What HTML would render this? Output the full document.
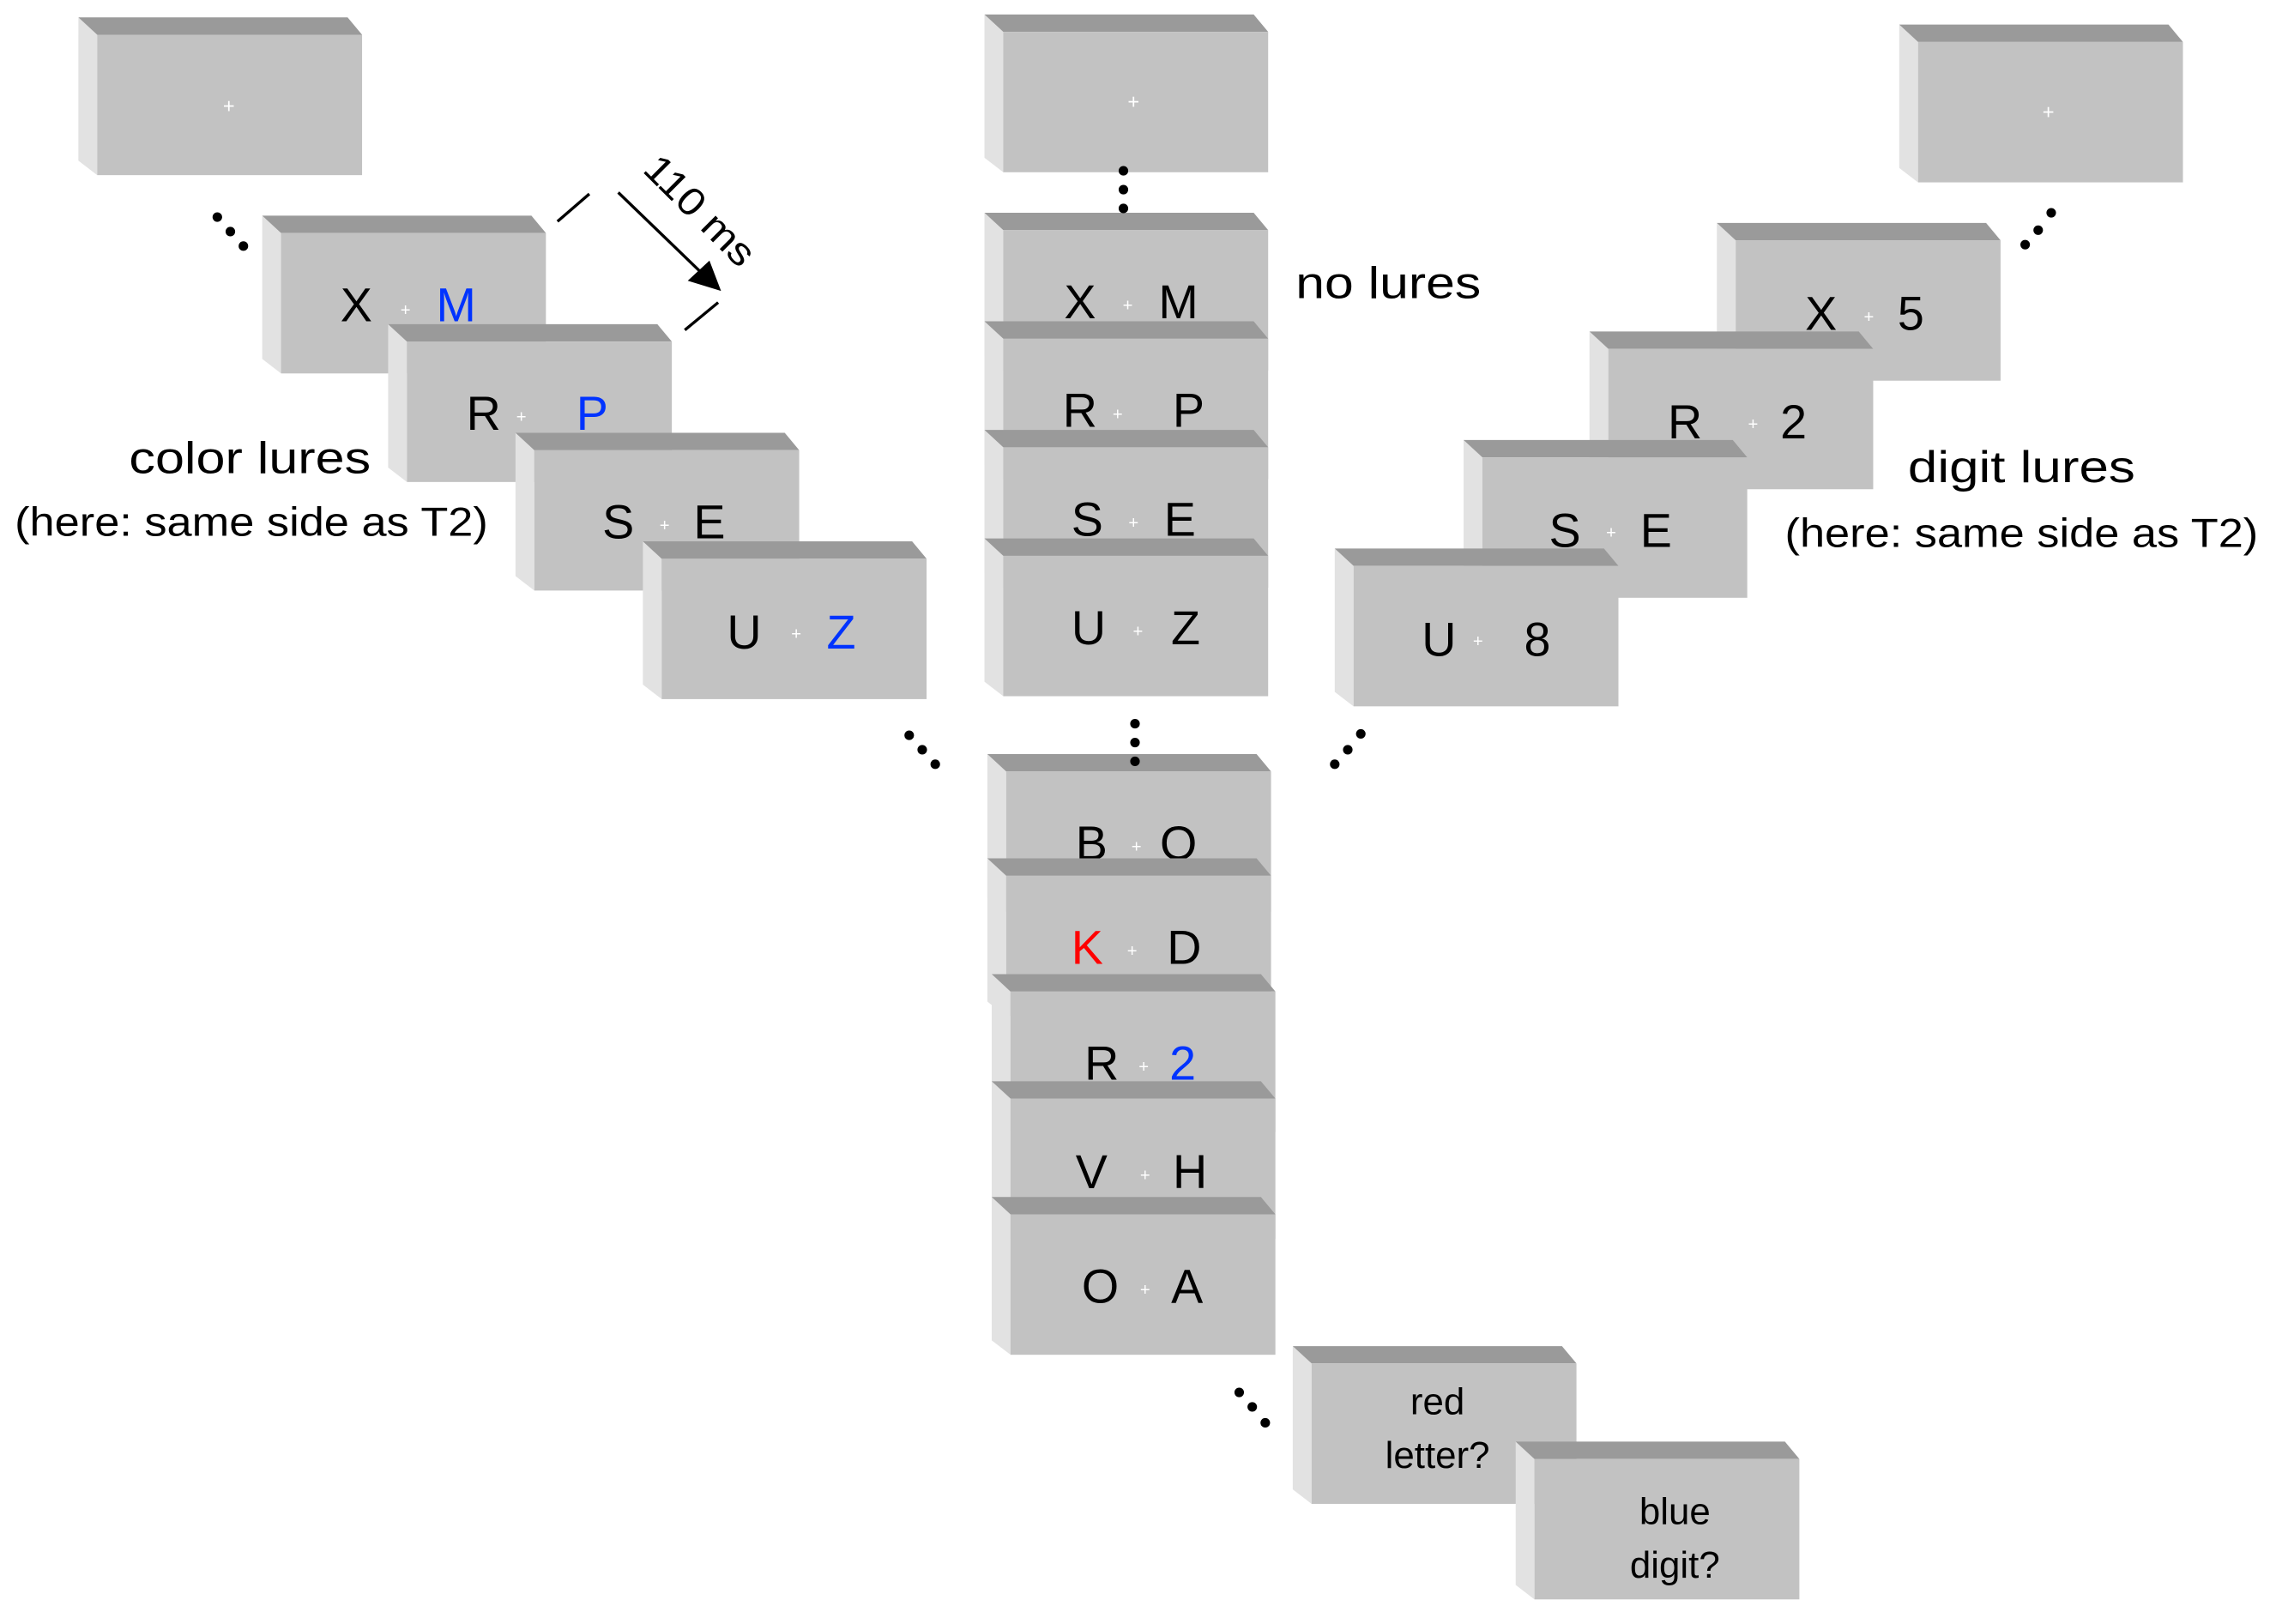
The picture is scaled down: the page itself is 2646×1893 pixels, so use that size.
<!DOCTYPE html>
<html><head><meta charset="utf-8">
<style>
html,body{margin:0;padding:0;background:#fff;}
svg{display:block;}
text{font-family:"Liberation Sans",sans-serif;}
</style></head>
<body>
<svg width="2646" height="1893" viewBox="0 0 1568 1122" xmlns="http://www.w3.org/2000/svg">
<defs>
<g id="b">
<polygon points="0,0 13,12 13,109 0,99" fill="#e2e2e2"/>
<polygon points="0,0 186,0 196,12 13,12" fill="#9a9a9a"/>
<rect x="13" y="12" width="183" height="97" fill="#c2c2c2"/>
</g>
</defs>
<g font-size="33" fill="#000">
<!-- left column -->
<use href="#b" x="54" y="12"/>
<text x="158" y="78" font-size="14" fill="#fff" text-anchor="middle">+</text>
<use href="#b" x="181" y="149"/>
<text x="246" y="222" text-anchor="middle">X</text><text x="280" y="218" font-size="12" fill="#fff" text-anchor="middle">+</text><text x="315" y="222" text-anchor="middle" fill="#0033ff">M</text>
<use href="#b" x="268" y="224"/>
<text x="334" y="297" text-anchor="middle">R</text><text x="360" y="292" font-size="12" fill="#fff" text-anchor="middle">+</text><text x="409" y="297" text-anchor="middle" fill="#0033ff">P</text>
<use href="#b" x="356" y="299"/>
<text x="427" y="372" text-anchor="middle">S</text><text x="459" y="367" font-size="12" fill="#fff" text-anchor="middle">+</text><text x="490" y="372" text-anchor="middle">E</text>
<use href="#b" x="444" y="374"/>
<text x="514" y="448" text-anchor="middle">U</text><text x="550" y="442" font-size="12" fill="#fff" text-anchor="middle">+</text><text x="581" y="448" text-anchor="middle" fill="#0033ff">Z</text>

<!-- center column -->
<use href="#b" x="680" y="10"/>
<text x="783" y="75" font-size="14" fill="#fff" text-anchor="middle">+</text>
<use href="#b" x="680" y="147"/>
<text x="746" y="220" text-anchor="middle">X</text><text x="779" y="215" font-size="12" fill="#fff" text-anchor="middle">+</text><text x="814" y="220" text-anchor="middle">M</text>
<use href="#b" x="680" y="222"/>
<text x="746" y="295" text-anchor="middle">R</text><text x="772" y="290" font-size="12" fill="#fff" text-anchor="middle">+</text><text x="821" y="295" text-anchor="middle">P</text>
<use href="#b" x="680" y="297"/>
<text x="751" y="370" text-anchor="middle">S</text><text x="783" y="365" font-size="12" fill="#fff" text-anchor="middle">+</text><text x="815" y="370" text-anchor="middle">E</text>
<use href="#b" x="680" y="372"/>
<text x="752" y="445" text-anchor="middle">U</text><text x="786" y="440" font-size="12" fill="#fff" text-anchor="middle">+</text><text x="819" y="445" text-anchor="middle">Z</text>

<use href="#b" x="682" y="521"/>
<text x="754" y="594" text-anchor="middle">B</text><text x="785" y="589" font-size="12" fill="#fff" text-anchor="middle">+</text><text x="814" y="594" text-anchor="middle">O</text>
<use href="#b" x="682" y="593"/>
<text x="751" y="666" text-anchor="middle" fill="#ff0000">K</text><text x="782" y="661" font-size="12" fill="#fff" text-anchor="middle">+</text><text x="818" y="666" text-anchor="middle">D</text>
<use href="#b" x="685" y="673"/>
<text x="761" y="746" text-anchor="middle">R</text><text x="790" y="741" font-size="12" fill="#fff" text-anchor="middle">+</text><text x="817" y="746" text-anchor="middle" fill="#0033ff">2</text>
<use href="#b" x="685" y="747"/>
<text x="754" y="821" text-anchor="middle">V</text><text x="791" y="816" font-size="12" fill="#fff" text-anchor="middle">+</text><text x="822" y="821" text-anchor="middle">H</text>
<use href="#b" x="685" y="827"/>
<text x="760" y="900" text-anchor="middle">O</text><text x="791" y="895" font-size="12" fill="#fff" text-anchor="middle">+</text><text x="820" y="900" text-anchor="middle">A</text>

<!-- right column -->
<use href="#b" x="1312" y="17"/>
<text x="1415" y="82" font-size="14" fill="#fff" text-anchor="middle">+</text>
<use href="#b" x="1186" y="154"/>
<text x="1258" y="228" text-anchor="middle">X</text><text x="1291" y="223" font-size="12" fill="#fff" text-anchor="middle">+</text><text x="1320" y="228" text-anchor="middle">5</text>
<use href="#b" x="1098" y="229"/>
<text x="1164" y="303" text-anchor="middle">R</text><text x="1211" y="297" font-size="12" fill="#fff" text-anchor="middle">+</text><text x="1239" y="303" text-anchor="middle">2</text>
<use href="#b" x="1011" y="304"/>
<text x="1081" y="378" text-anchor="middle">S</text><text x="1113" y="372" font-size="12" fill="#fff" text-anchor="middle">+</text><text x="1144" y="378" text-anchor="middle">E</text>
<use href="#b" x="922" y="379"/>
<text x="994" y="453" text-anchor="middle">U</text><text x="1021" y="447" font-size="12" fill="#fff" text-anchor="middle">+</text><text x="1062" y="453" text-anchor="middle">8</text>

<!-- bottom -->
<use href="#b" x="893" y="930"/>
<text x="993" y="977" font-size="26" text-anchor="middle">red</text>
<text x="993" y="1014" font-size="26" text-anchor="middle">letter?</text>
<use href="#b" x="1047" y="996"/>
<text x="1157" y="1053" font-size="26" text-anchor="middle">blue</text>
<text x="1157" y="1090" font-size="26" text-anchor="middle">digit?</text>

<!-- labels -->
<text x="89" y="327" font-size="31" textLength="167" lengthAdjust="spacingAndGlyphs">color lures</text>
<text x="10" y="370" font-size="28" textLength="327" lengthAdjust="spacingAndGlyphs">(here: same side as T2)</text>
<text x="895" y="206" font-size="31" textLength="128" lengthAdjust="spacingAndGlyphs">no lures</text>
<text x="1318" y="333" font-size="31" textLength="157" lengthAdjust="spacingAndGlyphs">digit lures</text>
<text x="1233" y="378" font-size="28" textLength="327" lengthAdjust="spacingAndGlyphs">(here: same side as T2)</text>
<text x="0" y="0" font-size="27" transform="translate(443,118) rotate(45)" textLength="96" lengthAdjust="spacingAndGlyphs">110 ms</text>
</g>

<!-- arrow & ticks -->
<g stroke="#000" stroke-width="2">
<line x1="427" y1="133" x2="484" y2="188"/>
<line x1="385" y1="153" x2="407" y2="134"/>
<line x1="473" y1="228" x2="496" y2="209"/>
</g>
<polygon points="498,201 475,194 490,180" fill="#000"/>

<!-- dots -->
<g fill="#000">
<circle cx="150" cy="150" r="3.3"/><circle cx="159" cy="160" r="3.3"/><circle cx="168" cy="170" r="3.3"/>
<circle cx="776" cy="118" r="3.3"/><circle cx="776" cy="131" r="3.3"/><circle cx="776" cy="144" r="3.3"/>
<circle cx="784" cy="500" r="3.3"/><circle cx="784" cy="513" r="3.3"/><circle cx="784" cy="526" r="3.3"/>
<circle cx="628" cy="508" r="3.3"/><circle cx="637" cy="518" r="3.3"/><circle cx="646" cy="528" r="3.3"/>
<circle cx="922" cy="528" r="3.3"/><circle cx="931" cy="518" r="3.3"/><circle cx="940" cy="507" r="3.3"/>
<circle cx="1399" cy="169" r="3.3"/><circle cx="1408" cy="159" r="3.3"/><circle cx="1417" cy="147" r="3.3"/>
<circle cx="856" cy="962" r="3.3"/><circle cx="865" cy="972" r="3.3"/><circle cx="874" cy="983" r="3.3"/>
</g>
</svg>
</body></html>
